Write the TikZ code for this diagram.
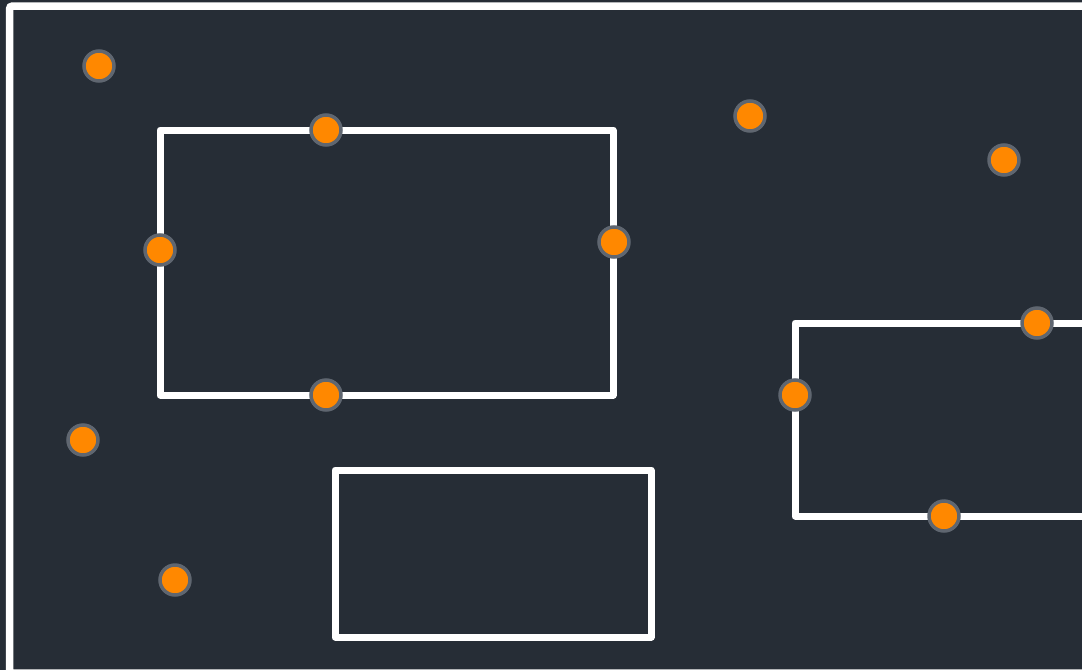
\documentclass[tikz,border=0pt]{standalone}
\definecolor{bg}{HTML}{262D36}
\definecolor{dotfill}{HTML}{FF8800}
\definecolor{dotring}{HTML}{5F6670}
\tikzset{
  wall/.style={draw=white, line width=7pt, line join=round},
  outer/.style={draw=white, line width=7.5pt, rounded corners=3pt},
  dot/.style={circle, fill=dotfill, draw=dotring, line width=3.5pt, minimum size=30pt, inner sep=0pt},
}
\begin{document}
\begin{tikzpicture}[x=1pt,y=-1pt]
\useasboundingbox (0,0) rectangle (1082,670);
\fill[bg] (0,0) rectangle (1082,670);
\begin{scope}
\clip (0,0) rectangle (1082,670);
\draw[outer] (9.5,6) rectangle (1100,673);
\draw[wall] (160,130) rectangle (613,395);
\draw[wall] (335,470) rectangle (651,637);
\draw[wall] (1100,323) -- (795,323) -- (795,516) -- (1100,516);
\end{scope}
\node[dot] (d1) at (99,66) {};
\node[dot] (d2) at (326,130) {};
\node[dot] (d3) at (160,250) {};
\node[dot] (d4) at (614,242) {};
\node[dot] (d5) at (326,395) {};
\node[dot] (d6) at (750,116) {};
\node[dot] (d7) at (1004,160) {};
\node[dot] (d8) at (1037,323) {};
\node[dot] (d9) at (795,395) {};
\node[dot] (d10) at (944,516) {};
\node[dot] (d11) at (83,440) {};
\node[dot] (d12) at (175,580) {};
\end{tikzpicture}
\end{document}
